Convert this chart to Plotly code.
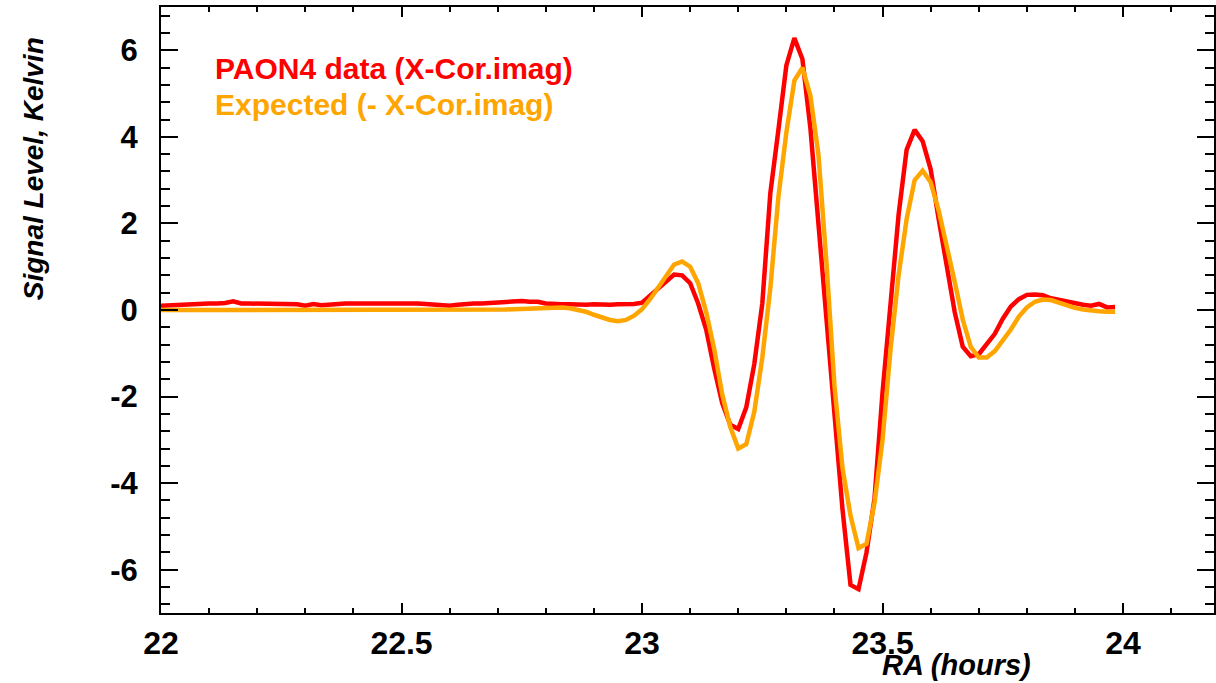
import plotly.graph_objects as go

# RA sampling grid: one sample per minute from 22h
minutes = list(range(120))
ra_hours = [22 + m / 60 for m in minutes]

paon4_data = [
    0.10, 0.11, 0.12, 0.13, 0.15, 0.15, 0.15, 0.15, 0.16, 0.20,
    0.15, 0.15, 0.15, 0.15, 0.15, 0.14, 0.14, 0.13, 0.10, 0.14,
    0.11, 0.13, 0.15, 0.15, 0.15, 0.15, 0.16, 0.17, 0.17, 0.17,
    0.17, 0.16, 0.15, 0.14, 0.13, 0.12, 0.10, 0.12, 0.14, 0.15,
    0.15, 0.16, 0.16, 0.18, 0.19, 0.21, 0.19, 0.19, 0.15, 0.13,
    0.13, 0.13, 0.12, 0.12, 0.13, 0.12, 0.12, 0.13, 0.13, 0.14,
    0.17, 0.33, 0.52, 0.68, 0.82, 0.80, 0.62, 0.15, -0.45, -1.35,
    -2.15, -2.65, -2.75, -2.25, -1.25, 0.15, 2.70, 4.15, 5.65, 6.28,
    5.80, 4.20, 2.00, -0.30, -2.50, -4.60, -6.35, -6.45, -5.60, -4.35,
    -1.90, 0.30, 2.20, 3.70, 4.16, 3.90, 3.25, 2.10, 1.05, -0.05,
    -0.85, -1.07, -1.02, -0.78, -0.55, -0.20, 0.08, 0.25, 0.35, 0.36,
    0.34, 0.27, 0.23, 0.20, 0.15, 0.12, 0.10, 0.14, 0.06, 0.07,
]

expected = [
    0.00, 0.00, 0.01, 0.01, 0.01, 0.01, 0.01, 0.01, 0.01, 0.01,
    0.01, 0.01, 0.00, 0.00, 0.00, 0.00, 0.00, 0.00, -0.01, -0.01,
    -0.01, -0.01, -0.01, 0.00, 0.00, 0.00, 0.00, 0.00, 0.00, 0.00,
    0.00, 0.00, 0.00, -0.01, -0.01, -0.01, -0.01, -0.01, -0.01, -0.01,
    -0.01, 0.00, 0.00, 0.01, 0.02, 0.03, 0.04, 0.05, 0.06, 0.06,
    0.06, 0.04, 0.01, -0.04, -0.11, -0.18, -0.23, -0.26, -0.23, -0.13,
    0.02, 0.25, 0.52, 0.82, 1.05, 1.12, 1.00, 0.62, -0.05, -0.90,
    -1.95, -2.70, -3.20, -3.10, -2.35, -1.10, 0.50, 2.60, 4.10, 5.30,
    5.60, 4.95, 3.60, 1.10, -1.75, -3.65, -4.75, -5.50, -5.40, -4.45,
    -3.00, -0.90, 0.80, 2.10, 3.00, 3.22, 2.95, 2.30, 1.50, 0.65,
    -0.22, -0.85, -1.10, -1.10, -0.95, -0.72, -0.45, -0.15, 0.06, 0.19,
    0.24, 0.23, 0.17, 0.10, 0.05, 0.01, -0.02, -0.03, -0.04, -0.04,
]

x_ticks = [22, 22.5, 23, 23.5, 24]
x_tick_labels = ["22", "22.5", "23", "23.5", "24"]
y_ticks = [-6, -4, -2, 0, 2, 4, 6]
y_tick_labels = ["-6", "-4", "-2", "0", "2", "4", "6"]

RED = "#FF0000"
ORANGE = "#FFA500"
FONT = "Liberation Sans"

fig = go.Figure()
fig.add_trace(go.Scatter(x=ra_hours, y=paon4_data, mode="lines",
                         line=dict(color=RED, width=4.5), name="PAON4 data (X-Cor.imag)"))
fig.add_trace(go.Scatter(x=ra_hours, y=expected, mode="lines",
                         line=dict(color=ORANGE, width=4.5), name="Expected (- X-Cor.imag)"))

fig.update_layout(
    width=1216, height=683,
    margin=dict(l=161, r=0, t=7, b=70),
    paper_bgcolor="white", plot_bgcolor="white",
    showlegend=False,
    font=dict(family=FONT, color="black"),
)

fig.update_xaxes(
    range=[22, 24.189],
    tickmode="array", tickvals=x_ticks, ticktext=x_tick_labels,
    ticks="inside", ticklen=10, tickwidth=2, tickcolor="black",
    minor=dict(dtick=0.1, tick0=22, ticks="inside", ticklen=5, tickwidth=1.5, tickcolor="black"),
    showline=True, linewidth=2, linecolor="black", mirror="ticks",
    showgrid=False, zeroline=False,
    tickfont=dict(family=FONT, size=32, weight="bold", color="black"),
    ticklabelstandoff=1,
)
fig.update_yaxes(
    range=[-7, 7],
    tickmode="array", tickvals=y_ticks, ticktext=y_tick_labels,
    ticks="inside", ticklen=17, tickwidth=2, tickcolor="black",
    minor=dict(dtick=0.4, tick0=0, ticks="inside", ticklen=9, tickwidth=1.5, tickcolor="black"),
    showline=True, linewidth=2, linecolor="black", mirror="ticks",
    showgrid=False, zeroline=False,
    tickfont=dict(family=FONT, size=31, weight="bold", color="black"),
    ticklabelstandoff=15,
)

# axis titles
fig.add_annotation(text="<b><i>Signal Level, Kelvin</i></b>", xref="paper", yref="paper",
                   x=(33 - 161) / 1055, y=(613 - 169) / 606, xanchor="center", yanchor="middle",
                   textangle=-90, showarrow=False, font=dict(family=FONT, size=28, color="black"))
fig.add_annotation(text="<b><i>RA (hours)</i></b>", xref="paper", yref="paper",
                   x=(958 - 161) / 1055, y=(613 - 665) / 606, xanchor="center", yanchor="middle",
                   showarrow=False, font=dict(family=FONT, size=29, color="black"))

# legend as colored text
fig.add_annotation(text="<b>PAON4 data (X-Cor.imag)</b>", xref="paper", yref="paper",
                   x=(213 - 161) / 1055, y=(613 - 68) / 606, xanchor="left", yanchor="middle",
                   showarrow=False, font=dict(family=FONT, size=30, color=RED))
fig.add_annotation(text="<b>Expected (- X-Cor.imag)</b>", xref="paper", yref="paper",
                   x=(213 - 161) / 1055, y=(613 - 105) / 606, xanchor="left", yanchor="middle",
                   showarrow=False, font=dict(family=FONT, size=30, color=ORANGE))

fig.write_html("out.html")
